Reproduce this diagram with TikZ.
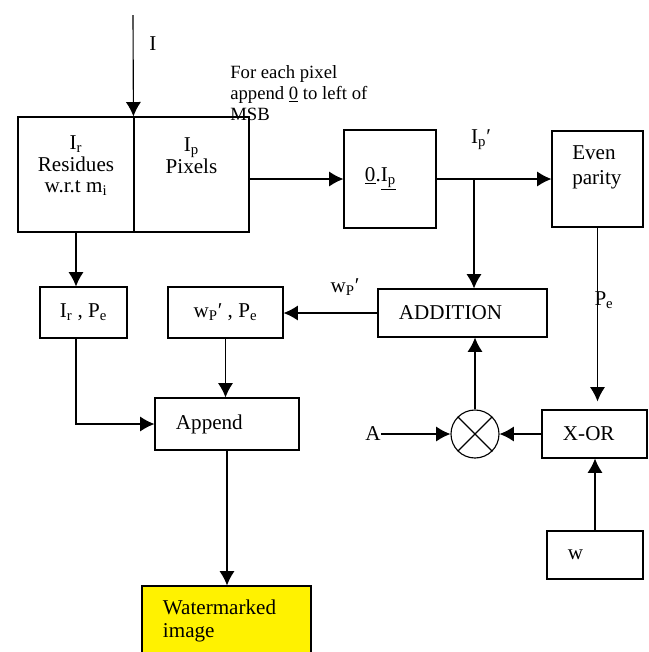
\documentclass[tikz,border=0pt]{standalone}
\usepackage{fontspec}
\setmainfont{Liberation Serif}
\usetikzlibrary{arrows.meta,positioning}

\begin{document}
\begin{tikzpicture}[x=0.025cm,y=-0.025cm,>={Latex[length=3.6mm,width=3.8mm]},
  blk/.style={draw,line width=0.8pt,align=left,inner xsep=0.525cm,inner ysep=0pt,font=\fontsize{15}{16.5}\selectfont},
  txt/.style={align=center,inner sep=0pt,font=\fontsize{15}{16.5}\selectfont},
  lnk/.style={->,line width=0.8pt}]
\useasboundingbox (0,0) rectangle (649,652);

% input image split into residues and pixels
\node[blk,minimum width=2.9cm,minimum height=2.875cm,inner xsep=0pt] (res) at (76,174.5) {};
\node[blk,minimum width=2.875cm,minimum height=2.875cm,inner xsep=0pt] (pix) at (191.5,174.5) {};
\node[txt,font=\fontsize{15}{15.3}\selectfont] (restxt) at (76,166) {I\textsubscript{r}\\Residues\\w.r.t m\textsubscript{i}};
\node[txt,font=\fontsize{15}{15.3}\selectfont] (pixtxt) at (191.5,155.5) {I\textsubscript{p}\\Pixels};
\coordinate (itop) at (133,15);
\node[txt] (ilbl) at (153,44) {I};
\draw[lnk] (itop) -- (pix.north west);
\node[txt,anchor=north west,align=left,font=\fontsize{13.3}{15}\selectfont] (note) at (230,65) {For each pixel\\append \underline{0} to left of\\MSB};

% pixel branch
\node[blk,text width=1.25cm,minimum height=2.45cm] (zip) at (390,179) {\underline{0}.\underline{I\textsubscript{p}}};
\node[blk,minimum width=2.275cm,minimum height=2.4cm,inner xsep=0pt] (even) at (597.5,179) {};
\node[txt,anchor=west,align=left,font=\fontsize{15}{17.8}\selectfont] (eventxt) at (572,167) {Even\\parity};
\node[blk,text width=3.175cm,minimum height=1.2cm] (add) at (462.5,313) {ADDITION};
\node[blk,text width=1.575cm,minimum height=1.2cm] (xor) at (594.5,434) {X-OR};
\node[blk,text width=1.35cm,minimum height=1.2cm] (wbox) at (595,555) {w};
\node[circle,draw,line width=0.8pt,minimum size=1.2cm,inner sep=0pt] (mul) at (475,434) {};
\draw[line width=0.8pt] (mul.north west) -- (mul.south east) (mul.north east) -- (mul.south west);
\node[txt] (albl) at (373,434) {A};

% appended outputs
\node[blk,align=center,inner xsep=0pt,minimum width=2.175cm,minimum height=1.275cm] (irpe) at (83.5,312.5) {I\textsubscript{r} , P\textsubscript{e}};
\node[blk,align=center,inner xsep=0pt,minimum width=2.875cm,minimum height=1.275cm] (wpe) at (225.5,312.5) {w\textsubscript{P}′ , P\textsubscript{e}};
\node[blk,text width=2.55cm,minimum height=1.3cm] (app) at (227,424) {Append};
\node[blk,fill=yellow,text width=3.175cm,minimum height=1.75cm] (wm) at (226.5,621) {Watermarked\\image};

% labels on connectors
\node[txt] (iplbl) at (481,140) {I\textsubscript{p}′};
\node[txt] (wplbl) at (345,287) {w\textsubscript{P}′};
\node[txt] (pelbl) at (604,300) {P\textsubscript{e}};

\coordinate (jn) at (474,179);
\draw[lnk] (pix.east |- zip.west) -- (zip.west);
\draw[lnk] (zip.east) -- (even.west);
\draw[lnk] (jn) -- (jn |- add.north);
\draw[lnk] (add.west) -- (add.west -| wpe.east);
\draw[lnk] (res.south) -- (res.south |- irpe.north);
\draw[lnk] (irpe.south -| res.south) |- (app.west);
\draw[lnk] (wpe.south) -- (wpe.south |- app.north);
\draw[lnk] (app.south) -- (app.south |- wm.north);
\draw[lnk,shorten >=0.2cm] (even.south) -- (even.south |- xor.north);
\draw[lnk] (xor.west) -- (mul.east);
\draw[lnk] (albl.east |- mul.west) -- (mul.west);
\draw[lnk] (mul.north) -- (mul.north |- add.south);
\draw[lnk] (wbox.north) -- (wbox.north |- xor.south);
\end{tikzpicture}
\end{document}
